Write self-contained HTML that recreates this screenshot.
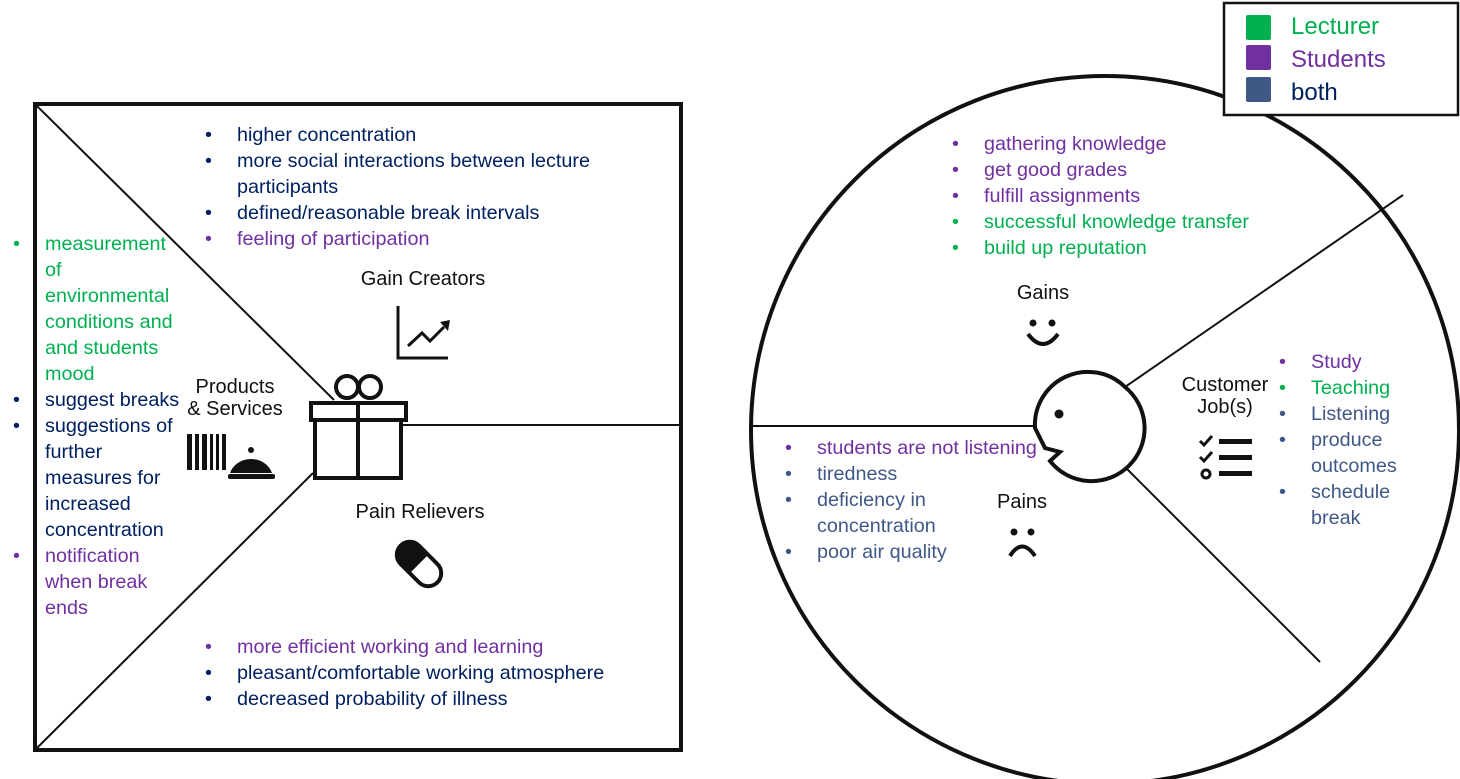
<!DOCTYPE html>
<html><head><meta charset="utf-8"><style>
body{margin:0;width:1460px;height:779px;background:#fff;position:relative;overflow:hidden;font-family:"Liberation Sans",sans-serif}
.t{position:absolute;font-size:19.8px;line-height:26px;white-space:nowrap}
.b{position:absolute;font-size:19.8px;line-height:26px}
.n{color:#002060}.p{color:#7030A0}.g{color:#00B050}.s{color:#3F5885}
.l{position:absolute;font-size:20px;color:#111;text-align:center;line-height:22px}
ul{margin:0;padding:0;list-style:none}
li{position:relative;padding-left:32px;line-height:26px}
li:before{content:"•";position:absolute;left:0;top:0}
</style></head><body>
<svg width="1460" height="779" style="position:absolute;left:0;top:0">
<rect x="35" y="104" width="646" height="646" fill="none" stroke="#111" stroke-width="4"/>
<line x1="37" y1="106" x2="334" y2="400" stroke="#111" stroke-width="2"/>
<line x1="37" y1="748" x2="313" y2="473" stroke="#111" stroke-width="2"/>
<line x1="401" y1="425" x2="680" y2="425" stroke="#111" stroke-width="2"/>
<circle cx="1105" cy="430" r="354" fill="none" stroke="#111" stroke-width="4"/>
<line x1="751" y1="426" x2="1036" y2="426" stroke="#111" stroke-width="2"/>
<line x1="1125" y1="387" x2="1403" y2="195" stroke="#111" stroke-width="2"/>
<line x1="1125" y1="467" x2="1320" y2="662" stroke="#111" stroke-width="2"/>
<path d="M1125 387 A53 53 0 1 1 1050 461 L1060 452 L1045 448 L1035 428 A53 53 0 0 1 1125 387Z" fill="none" stroke="#111" stroke-width="4"/>
<circle cx="1059" cy="414" r="4.5" fill="#111"/>
<g stroke="#111" stroke-width="4" fill="none">
<rect x="311" y="403" width="95" height="17"/>
<rect x="315" y="420" width="86" height="58"/>
<line x1="358" y1="403" x2="358" y2="478"/>
<ellipse cx="347" cy="387" rx="11" ry="11"/><ellipse cx="370" cy="387" rx="11" ry="11"/>
</g>
<g stroke="#111" stroke-width="3" fill="none">
<path d="M398 306 V358 H448"/>
<path d="M408 346 L422 333 L430 341 L444 327"/>
</g>
<path d="M440 322 L450 320 L448 331Z" fill="#111"/>
<g fill="#111">
<rect x="187" y="434" width="5" height="36"/><rect x="195" y="434" width="4" height="36"/><rect x="202" y="434" width="5" height="36"/><rect x="210" y="434" width="3" height="36"/><rect x="216" y="434" width="3" height="36"/><rect x="222" y="434" width="4" height="36"/>
<path d="M230 473 A22 20 0 0 1 272 473Z"/><circle cx="251" cy="450" r="3"/>
<rect x="228" y="474" width="47" height="5" rx="2"/>
</g>
<g transform="rotate(45 419 564)">
<rect x="393" y="551" width="52" height="26" rx="13" fill="#fff" stroke="#111" stroke-width="4"/>
<path d="M419 551 H406 A13 13 0 0 0 406 577 H419Z" fill="#111"/>
</g>
<circle cx="1033" cy="323" r="3.5" fill="#111"/><circle cx="1052" cy="323" r="3.5" fill="#111"/>
<path d="M1028 334 Q1043 354 1058 334" stroke="#111" stroke-width="4" fill="none"/>
<circle cx="1014" cy="532" r="3.5" fill="#111"/><circle cx="1031" cy="532" r="3.5" fill="#111"/>
<path d="M1010 556 Q1022 537 1035 556" stroke="#111" stroke-width="4" fill="none"/>
<g stroke="#111" stroke-width="3" fill="none">
<path d="M1200 441 L1204 445 L1212 436"/><path d="M1200 457 L1204 461 L1212 452"/>
<circle cx="1206" cy="474" r="4"/>
</g>
<g fill="#111"><rect x="1219" y="439" width="33" height="5"/><rect x="1219" y="455" width="33" height="5"/><rect x="1219" y="471" width="33" height="5"/></g>
<rect x="1224" y="3" width="234" height="112" fill="#fff" stroke="#111" stroke-width="2.5"/>
<rect x="1246" y="15" width="25" height="25" rx="2" fill="#00B050"/>
<rect x="1246" y="45" width="25" height="25" rx="2" fill="#7030A0"/>
<rect x="1246" y="77" width="25" height="25" rx="2" fill="#3F5885"/>
</svg>
<div class="t g" style="left:1291px;top:13px;font-size:24px;line-height:28px">Lecturer</div>
<div class="t p" style="left:1291px;top:46px;font-size:24px;line-height:28px">Students</div>
<div class="t n" style="left:1291px;top:79px;font-size:24px;line-height:28px">both</div>

<div class="l" style="left:323px;top:268px;width:200px">Gain Creators</div>
<div class="l" style="left:165px;top:376px;width:140px">Products<br>&amp; Services</div>
<div class="l" style="left:315px;top:501px;width:210px">Pain Relievers</div>
<div class="l" style="left:993px;top:282px;width:100px">Gains</div>
<div class="l" style="left:972px;top:491px;width:100px">Pains</div>
<div class="l" style="left:1165px;top:374px;width:120px">Customer<br>Job(s)</div>

<ul class="t" style="left:205px;top:122px">
<li class="n">higher concentration</li>
<li class="n">more social interactions between lecture<br>participants</li>
<li class="n">defined/reasonable break intervals</li>
<li class="p">feeling of participation</li>
</ul>
<ul class="b" style="left:13px;top:231px;width:175px">
<li class="g">measurement<br>of<br>environmental<br>conditions and<br>and students<br>mood</li>
<li class="n">suggest breaks</li>
<li class="n">suggestions of<br>further<br>measures for<br>increased<br>concentration</li>
<li class="p">notification<br>when break<br>ends</li>
</ul>
<ul class="t" style="left:205px;top:634px">
<li class="p">more efficient working and learning</li>
<li class="n">pleasant/comfortable working atmosphere</li>
<li class="n">decreased probability of illness</li>
</ul>
<ul class="t" style="left:952px;top:131px">
<li class="p">gathering knowledge</li>
<li class="p">get good grades</li>
<li class="p">fulfill assignments</li>
<li class="g">successful knowledge transfer</li>
<li class="g">build up reputation</li>
</ul>
<ul class="t" style="left:785px;top:435px">
<li class="p">students are not listening</li>
<li class="s">tiredness</li>
<li class="s">deficiency in<br>concentration</li>
<li class="s">poor air quality</li>
</ul>
<ul class="t" style="left:1279px;top:349px">
<li class="p">Study</li>
<li class="g">Teaching</li>
<li class="s">Listening</li>
<li class="s">produce<br>outcomes</li>
<li class="s">schedule<br>break</li>
</ul>
</body></html>
